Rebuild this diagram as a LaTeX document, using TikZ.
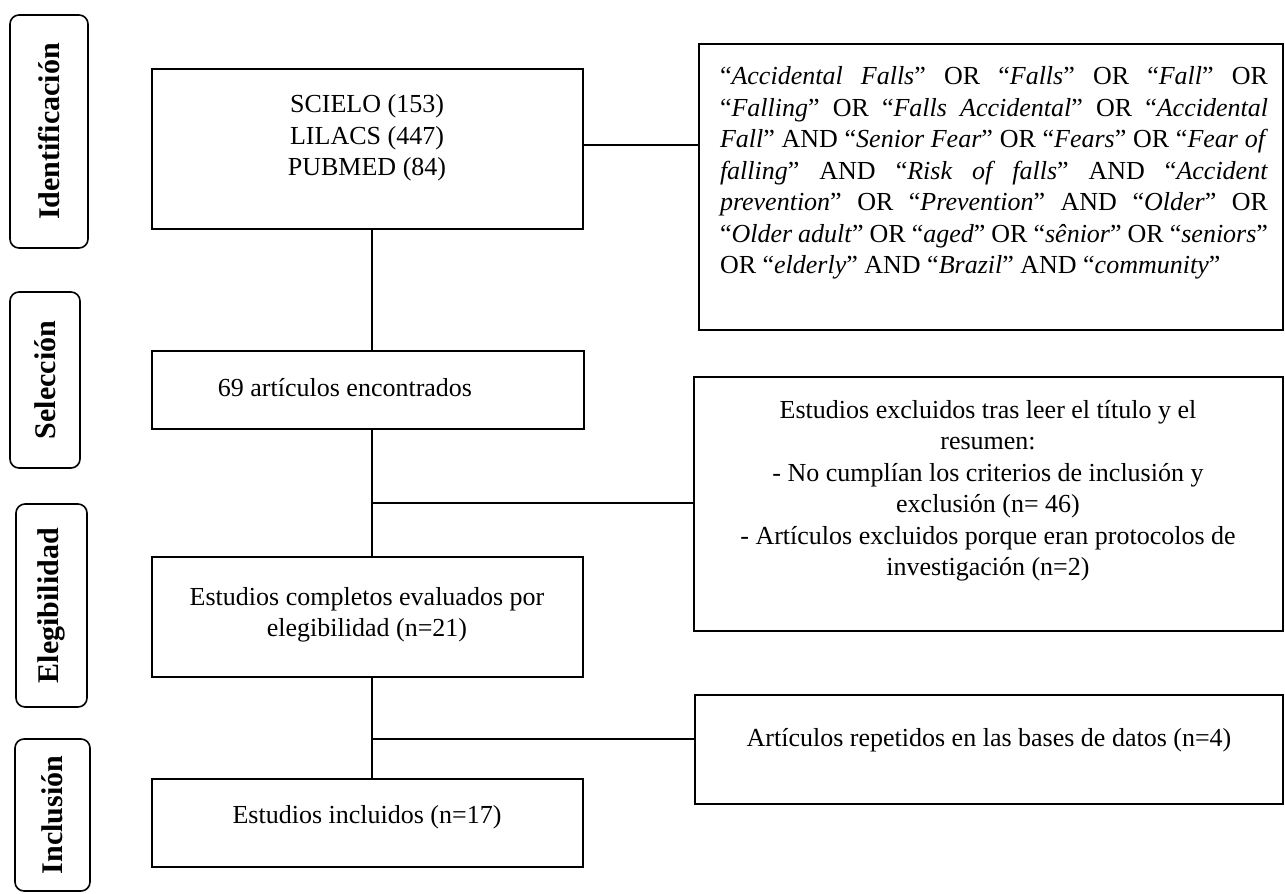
\documentclass[tikz,border=0pt]{standalone}
\usepackage{fontspec}
\setmainfont{Liberation Serif}
\newcommand\qq[1]{“\textit{#1}”}
\begin{document}
\begin{tikzpicture}[x=1pt,y=-1pt,
  box/.style={draw, line width=1.6pt, inner sep=0pt},
  lbl/.style={draw, line width=1.6pt, rounded corners=9pt, inner sep=0pt},
  conn/.style={line width=1.6pt},
  txt/.style={inner sep=0pt, align=center, font=\fontsize{26}{31.5}\selectfont},
  lbltxt/.style={inner sep=0pt, rotate=90, font=\bfseries\fontsize{30}{36}\selectfont}]
\useasboundingbox (0,0) rectangle (1285,894);
% side labels
\node[lbl, minimum width=78pt, minimum height=233pt] (L1) at (49,131.5) {};
\node[lbltxt] (T1) at (L1.center) {Identificación};
\node[lbl, minimum width=70pt, minimum height=176pt] (L2) at (45,380) {};
\node[lbltxt] (T2) at (L2.center) {Selección};
\node[lbl, minimum width=71pt, minimum height=203pt] (L3) at (51.5,605.5) {};
\node[lbltxt] (T3) at (L3.center) {Elegibilidad};
\node[lbl, minimum width=75pt, minimum height=152pt] (L4) at (52.5,815) {};
\node[lbltxt] (T4) at (L4.center) {Inclusión};
% main boxes
\node[box, minimum width=431pt, minimum height=160pt] (b1) at (367.5,149) {};
\node[txt] (t1) at (367,138) {SCIELO (153)\\LILACS (447)\\PUBMED (84)};
\node[box, minimum width=432pt, minimum height=78pt] (b2) at (368,390) {};
\node[txt] (t2) at (345,388) {69 artículos encontrados};
\node[box, minimum width=431pt, minimum height=120pt] (b3) at (367.5,617) {};
\node[txt] (t3) at (367,615) {Estudios completos evaluados por\\elegibilidad (n=21)};
\node[box, minimum width=431pt, minimum height=88pt] (b4) at (367.5,823) {};
\node[txt] (t4) at (367,817) {Estudios incluidos (n=17)};
% right boxes
\node[box, minimum width=584pt, minimum height=286pt] (s) at (991,187) {};
\node[inner sep=0pt] (st) at (994,173) {\parbox{548pt}{\fontsize{26}{31.5}\selectfont\tolerance=10000\hbadness=10000
\qq{Accidental Falls} OR \qq{Falls} OR \qq{Fall} OR\linebreak
\qq{Falling} OR \qq{Falls Accidental} OR “\textit{Accidental}\linebreak
\textit{Fall}” AND \qq{Senior Fear} OR \qq{Fears} OR “\textit{Fear of}\linebreak
\textit{falling}” AND \qq{Risk of falls} AND “\textit{Accident}\linebreak
\textit{prevention}” OR \qq{Prevention} AND \qq{Older} OR\linebreak
\qq{Older adult} OR \qq{aged} OR \qq{sênior} OR \qq{seniors}\linebreak
OR \qq{elderly} AND \qq{Brazil} AND \qq{community}}};
\node[box, minimum width=589pt, minimum height=254pt] (e) at (988.5,504) {};
\node[txt] (et) at (988,491) {Estudios excluidos tras leer el título y el\\resumen:\\- No cumplían los criterios de inclusión y\\exclusión (n= 46)\\- Artículos excluidos porque eran protocolos de\\investigación (n=2)};
\node[box, minimum width=588pt, minimum height=109pt] (r) at (989,749.5) {};
\node[txt] (rt) at (989,740) {Artículos repetidos en las bases de datos (n=4)};
% connector coordinates
\coordinate (tx) at (372,0);
\coordinate (c1) at (0,145);
\coordinate (c2) at (0,503);
\coordinate (c3) at (0,739);
\draw[conn] (b1.east |- c1) -- (s.west |- c1);
\draw[conn] (b1.south -| tx) -- (b2.north -| tx);
\draw[conn] (b2.south -| tx) -- (b3.north -| tx);
\draw[conn] (b3.south -| tx) -- (b4.north -| tx);
\draw[conn] (tx |- c2) -- (e.west |- c2);
\draw[conn] (tx |- c3) -- (r.west |- c3);
\end{tikzpicture}
\end{document}
